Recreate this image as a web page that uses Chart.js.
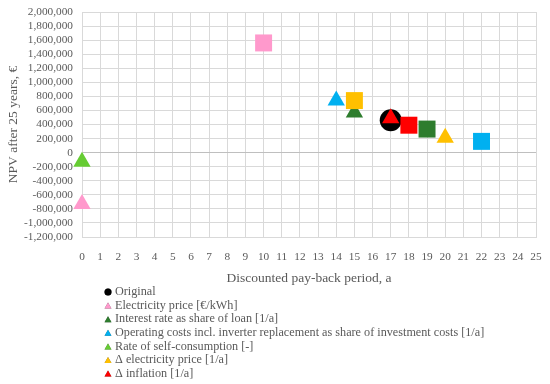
<!DOCTYPE html>
<html>
<head>
<meta charset="utf-8">
<script src="https://cdn.jsdelivr.net/npm/chart.js@4"></script>
<style>
  html, body { margin: 0; padding: 0; background: #fff; }
  #wrap { width: 550px; height: 384px; }
</style>
</head>
<body>
<div id="wrap"><canvas id="npvChart" width="550" height="384"></canvas></div>
<script>
// series labels + colours
const seriesNames = [
  "Original",
  "Electricity price [€/kWh]",
  "Interest rate as share of loan [1/a]",
  "Operating costs incl. inverter replacement as share of investment costs [1/a]",
  "Rate of self-consumption [-]",
  "\u0394 electricity price [1/a]",
  "\u0394 inflation [1/a]"
];
const seriesColors = ["#000000", "#ff99cc", "#2e7d2e", "#00b0f0", "#66cc33", "#ffc000", "#ff0000"];

// discounted pay-back period (a) per series, first point = triangle, second = square
const paybackX = [
  [17],
  [0, 10],
  [15, 19],
  [14, 22],
  [0],
  [20, 15],
  [17, 18]
];
// NPV after 25 years (€)
const npvY = [
  [460000],
  [-730000, 1560000],
  [570000, 335000],
  [740000, 160000],
  [-130000],
  [210000, 740000],
  [490000, 390000]
];

const xTicks = [0, 25, 1];              // min, max, step
const yTicks = [-1200000, 2000000, 200000];

const textColor = "#595959";
const serif = "'Liberation Serif', 'DejaVu Serif', serif";

const datasets = seriesNames.map((name, i) => {
  const pts = paybackX[i].map((x, j) => ({ x: x, y: npvY[i][j] }));
  const isOriginal = i === 0;
  return {
    label: name,
    data: pts,
    backgroundColor: seriesColors[i],
    borderColor: seriesColors[i],
    borderWidth: 0,
    clip: false,
    pointStyle: isOriginal ? 'circle' : pts.map((p, j) => j === 0 ? 'triangle' : 'rect'),
    pointRadius: isOriginal ? 11 : pts.map((p, j) => j === 0 ? 10 : 12),
    pointHoverRadius: isOriginal ? 11 : pts.map((p, j) => j === 0 ? 10 : 12),
    order: seriesNames.length - i   // later series on top
  };
});

// legend drawn as a vertical list under the axis title
const listLegend = {
  id: 'listLegend',
  afterDraw(chart) {
    const ctx = chart.ctx;
    ctx.save();
    ctx.font = "12.2px " + serif;
    ctx.fillStyle = textColor;
    ctx.textBaseline = 'middle';
    seriesNames.forEach((name, i) => {
      const y = 292 + i * 13.6;
      Chart.helpers.drawPoint(ctx, {
        pointStyle: i === 0 ? 'circle' : 'triangle',
        radius: i === 0 ? 3.5 : 4,
        rotation: 0,
        borderWidth: 0
      }, 108, i === 0 ? y : y + 1);
      ctx.fillStyle = seriesColors[i];
      ctx.fill();
      ctx.fillStyle = textColor;
      ctx.fillText(name, 115, y);
    });
    ctx.restore();
  }
};

const ctx = document.getElementById("npvChart").getContext('2d');
new Chart(ctx, {
  type: 'scatter',
  data: { datasets: datasets },
  plugins: [listLegend],
  options: {
    responsive: false,
    animation: false,
    layout: { padding: { left: 0, right: 14, top: 9, bottom: 97 } },
    plugins: {
      legend: { display: false },
      tooltip: { enabled: false }
    },
    scales: {
      x: {
        type: 'linear',
        min: xTicks[0],
        max: xTicks[1],
        ticks: {
          stepSize: xTicks[2],
          autoSkip: false,
          color: textColor,
          font: { family: serif, size: 11.3 },
          padding: 13,
          maxRotation: 0
        },
        grid: {
          color: "#d9d9d9",
          drawTicks: false
        },
        border: { color: "#d9d9d9" },
        title: {
          display: true,
          text: "Discounted pay-back period, a",
          color: textColor,
          font: { family: serif, size: 13.5 },
          padding: { top: 5, bottom: 0 }
        },
        afterFit: scale => {
          scale.height = 50;
          scale.paddingLeft = 0;
          scale.paddingRight = 0;
        }
      },
      y: {
        type: 'linear',
        min: yTicks[0],
        max: yTicks[1],
        ticks: {
          stepSize: yTicks[2],
          autoSkip: false,
          color: textColor,
          font: { family: serif, size: 11.3 },
          padding: 9,
          callback: v => v.toLocaleString('en-US')
        },
        grid: {
          color: c => (c.tick && c.tick.value === 0) ? "#bfbfbf" : "#d9d9d9",
          drawTicks: false
        },
        border: { color: "#d9d9d9" },
        title: {
          display: true,
          text: "NPV after 25 years, €",
          color: textColor,
          font: { family: serif, size: 13.5 },
          padding: { top: 5, bottom: 0 }
        },
        afterFit: scale => {
          scale.width = 82;
          scale.paddingTop = 0;
          scale.paddingBottom = 0;
        }
      }
    }
  }
});
</script>
</body>
</html>
